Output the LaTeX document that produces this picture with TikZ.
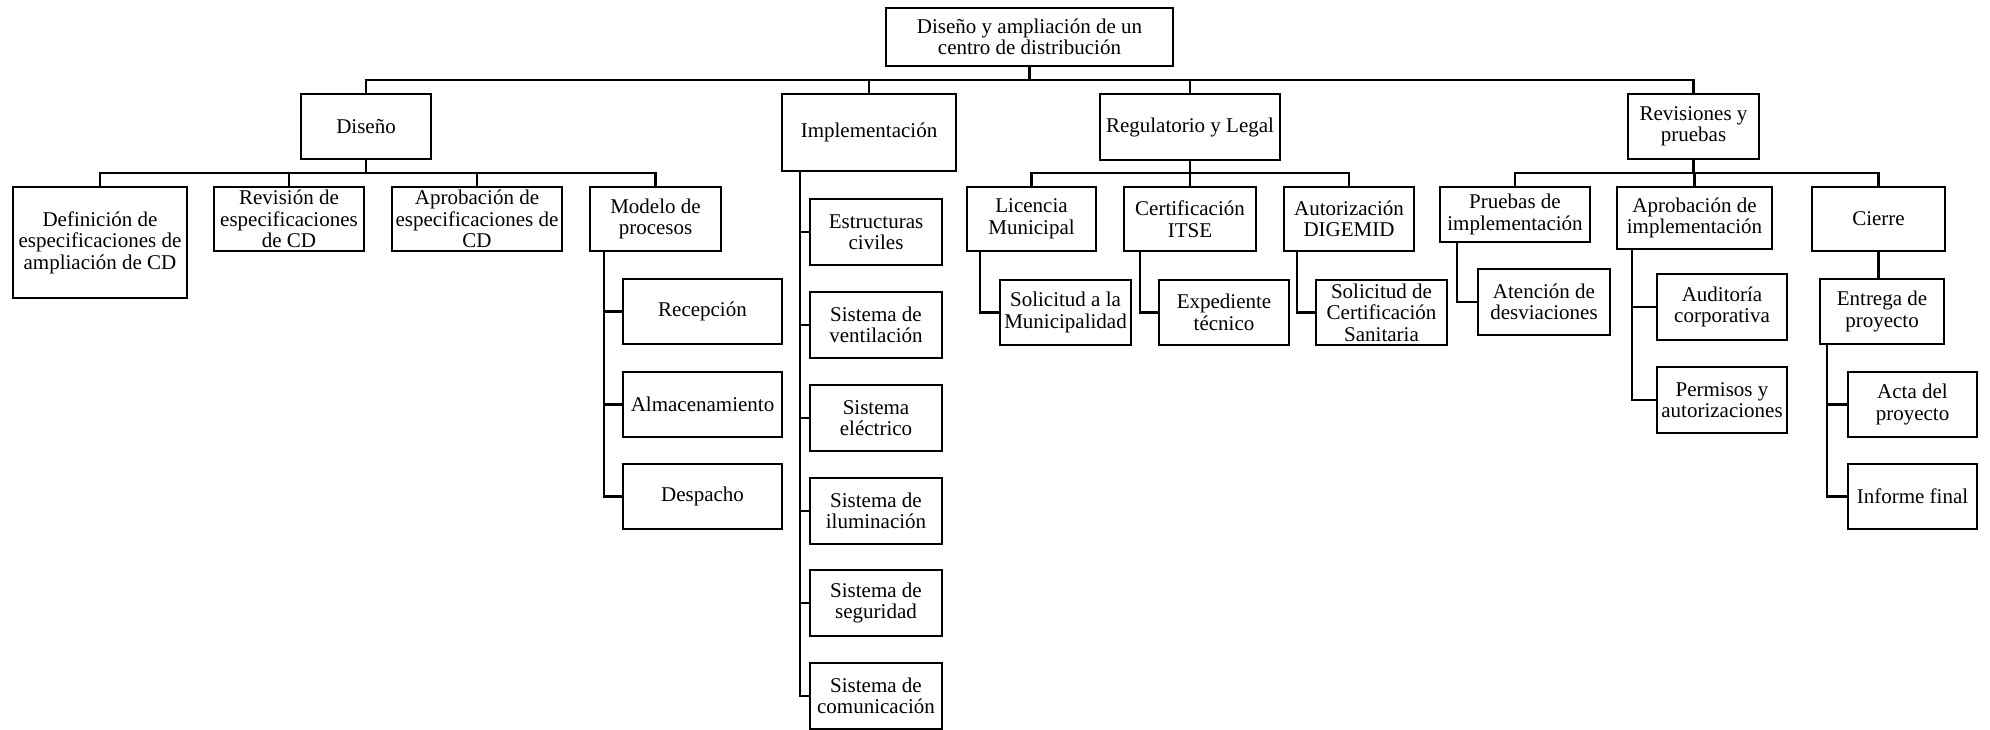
\documentclass[tikz,border=0pt]{standalone}
\usepackage{fontspec}
\setmainfont{Liberation Serif}
\begin{document}
\begin{tikzpicture}[x=1pt,y=-1pt,
  box/.style={draw,line width=2.6pt,align=center,inner sep=0pt,font=\fontsize{21}{21.5}\selectfont},
  conn/.style={line width=2.6pt}]
\useasboundingbox (0,0) rectangle (1990,729);
% level 0
\node[box,minimum width=287,minimum height=58] (root) at (1029.5,37) {Diseño y ampliación de un\\centro de distribución};
% level 1
\node[box,minimum width=130,minimum height=65] (dis) at (366,126.5) {Diseño};
\node[box,minimum width=174,minimum height=77] (imp) at (869,132.5) {Implementación};
\node[box,minimum width=180,minimum height=66] (reg) at (1190,127) {Regulatorio y Legal};
\node[box,minimum width=131,minimum height=65] (rev) at (1693.5,126.5) {Revisiones y\\pruebas};
% Diseño children
\node[box,minimum width=174,minimum height=111] (def) at (100,242.5) {Definición de\\especificaciones de\\ampliación de CD};
\node[box,minimum width=150,minimum height=64] (revi) at (289,219) {Revisión de\\especificaciones\\de CD};
\node[box,minimum width=170,minimum height=64] (apr) at (477,219) {Aprobación de\\especificaciones de\\CD};
\node[box,minimum width=131,minimum height=64] (mod) at (655.5,219) {Modelo de\\procesos};
\node[box,minimum width=159,minimum height=65] (rec) at (702.5,311.5) {Recepción};
\node[box,minimum width=159,minimum height=65] (alm) at (702.5,404.5) {Almacenamiento};
\node[box,minimum width=159,minimum height=65] (des) at (702.5,496.5) {Despacho};
% Implementación children
\node[box,minimum width=132,minimum height=66] (est) at (876,232) {Estructuras\\civiles};
\node[box,minimum width=132,minimum height=66] (ven) at (876,325) {Sistema de\\ventilación};
\node[box,minimum width=132,minimum height=66] (ele) at (876,418) {Sistema\\eléctrico};
\node[box,minimum width=132,minimum height=66] (ilu) at (876,511) {Sistema de\\iluminación};
\node[box,minimum width=132,minimum height=66] (seg) at (876,603) {Sistema de\\seguridad};
\node[box,minimum width=132,minimum height=66] (com) at (876,696) {Sistema de\\comunicación};
% Regulatorio children
\node[box,minimum width=129,minimum height=64] (lic) at (1031.5,219) {Licencia\\Municipal};
\node[box,minimum width=132,minimum height=64] (cer) at (1190,219) {Certificación\\ITSE};
\node[box,minimum width=130,minimum height=64] (aut) at (1349,219) {Autorización\\DIGEMID};
\node[box,minimum width=131,minimum height=65] (sol) at (1065.5,312.5) {Solicitud a la\\Municipalidad};
\node[box,minimum width=130,minimum height=65] (exp) at (1224,312.5) {Expediente\\técnico};
\node[box,minimum width=131,minimum height=65] (san) at (1381.5,312.5) {Solicitud de\\Certificación\\Sanitaria};
% Revisiones children
\node[box,minimum width=150,minimum height=55] (pru) at (1515,214.5) {Pruebas de\\implementación};
\node[box,minimum width=155,minimum height=62] (api) at (1694.5,218) {Aprobación de\\implementación};
\node[box,minimum width=133,minimum height=64] (cie) at (1878.5,219) {Cierre};
\node[box,minimum width=132,minimum height=66] (ate) at (1544,302) {Atención de\\desviaciones};
\node[box,minimum width=130,minimum height=66] (aud) at (1722,307) {Auditoría\\corporativa};
\node[box,minimum width=130,minimum height=66] (per) at (1722,400) {Permisos y\\autorizaciones};
\node[box,minimum width=124,minimum height=65] (ent) at (1882,311.5) {Entrega de\\proyecto};
\node[box,minimum width=129,minimum height=65] (act) at (1912.5,404.5) {Acta del\\proyecto};
\node[box,minimum width=129,minimum height=65] (inf) at (1912.5,496.5) {Informe final};
% bus levels and spines
\coordinate (bus0) at (0,80);
\coordinate (bus1) at (0,173);
\coordinate (spm) at (604,0);
\coordinate (spi) at (800,0);
\coordinate (spl) at (980,0);
\coordinate (spc) at (1140,0);
\coordinate (spa) at (1297,0);
\coordinate (spp) at (1457,0);
\coordinate (spr) at (1632,0);
\coordinate (spe) at (1827,0);
% connectors level 0 -> 1
\foreach \c in {dis,imp,reg,rev}
  \draw[conn] (root.south) -- (root.south |- bus0) -| (\c.north);
% Diseño
\foreach \c in {def,revi,apr,mod}
  \draw[conn] (dis.south) -- (dis.south |- bus1) -| (\c.north);
\foreach \c in {rec,alm,des}
  \draw[conn] (mod.south -| spm) |- (\c.west);
% Implementación
\foreach \c in {est,ven,ele,ilu,seg,com}
  \draw[conn] (imp.south -| spi) |- (\c.west);
% Regulatorio
\foreach \c in {lic,cer,aut}
  \draw[conn] (reg.south) -- (reg.south |- bus1) -| (\c.north);
\draw[conn] (lic.south -| spl) |- (sol.west);
\draw[conn] (cer.south -| spc) |- (exp.west);
\draw[conn] (aut.south -| spa) |- (san.west);
% Revisiones
\foreach \c in {pru,api,cie}
  \draw[conn] (rev.south) -- (rev.south |- bus1) -| (\c.north);
\draw[conn] (pru.south -| spp) |- (ate.west);
\foreach \c in {aud,per}
  \draw[conn] (api.south -| spr) |- (\c.west);
\draw[conn] (cie.south) -- (cie.south |- ent.north);
\foreach \c in {act,inf}
  \draw[conn] (ent.south -| spe) |- (\c.west);
\end{tikzpicture}
\end{document}
